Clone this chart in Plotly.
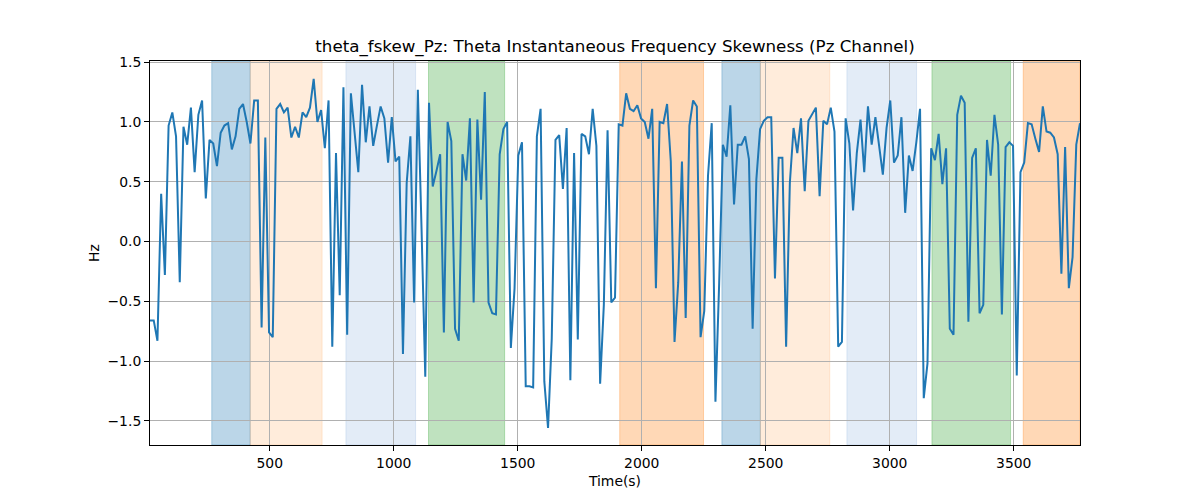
import plotly.graph_objects as go

# sampling of the time axis (s)
t_start = 17
t_step = 15

skew_values = [
    -0.66, -0.66, -0.83, 0.40, -0.28, 0.97, 1.08, 0.88, -0.34, 0.96, 0.81, 1.12, 0.58,
    1.06, 1.18, 0.36, 0.85, 0.82, 0.63, 0.91, 0.97, 0.99, 0.77, 0.88, 1.11, 1.15,
    1.00, 0.82, 1.18, 1.18, -0.72, 0.87, -0.76, -0.80, 1.11, 1.15, 1.08, 1.12, 0.87,
    0.96, 0.87, 1.08, 1.04, 1.12, 1.36, 1.00, 1.10, 0.78, 1.18, -0.88, 0.74, -0.45,
    1.29, -0.78, 1.24, 0.93, 0.58, 1.31, 0.83, 1.13, 0.80, 0.97, 1.13, 1.03, 0.66,
    1.04, 0.67, 0.71, -0.94, 0.49, 0.88, -0.51, 1.27, 0.10, -1.13, 1.16, 0.46,
    0.59, 0.73, -0.76, 1.00, 0.84, -0.73, -0.83, 0.73, 0.51, 1.03, -0.51, 1.02, 0.35,
    1.25, -0.51, -0.60, -0.61, 0.73, 0.94, 1.00, -0.89, -0.39, 0.72, 0.83, -1.21, -1.21,
    -1.22, 0.88, 1.11, -1.17, -1.56, -0.81, 0.85, 0.89, 0.44, 0.95, -1.16, 0.74, -0.82,
    0.90, 0.88, 0.73, 1.11, 0.80, -1.19, -0.53, 0.93, -0.51, -0.47, 0.98, 0.97,
    1.24, 1.11, 1.09, 1.14, 1.03, 1.00, 0.86, 1.11, -0.39, 1.00, 0.99, 1.15, 0.67,
    -0.84, -0.34, 0.67, -0.64, 0.97, 1.18, 1.13, -0.80, -0.58, 0.55, 0.99, -1.34,
    -0.35, 0.81, 0.71, 1.14, 0.31, 0.81, 0.81, 0.88, 0.69, -0.73, 0.52, 0.94, 1.01,
    1.04, 1.04, -0.31, 0.70, 0.70, -0.88, 0.49, 0.95, 0.74, 1.03, 0.42, 1.01, 1.06,
    1.12, 0.38, 1.01, 0.98, 1.12, 0.92, -0.88, -0.84, 1.03, 0.82, 0.26, 0.74, 1.02,
    0.58, 1.13, 0.81, 1.04, 0.80, 0.56, 0.95, 1.18, 0.66, 0.72, 1.04, 0.24, 0.72,
    0.59, 0.83, 1.11, -1.31, -1.02, 0.78, 0.68, 0.90, 0.48, 0.78, -0.73, -0.78, 1.06,
    1.22, 1.16, -0.67, 0.70, 0.78, -0.60, -0.53, 0.85, 0.55, 1.06, 0.81, -0.61,
    0.79, 0.83, 0.80, -1.12, 0.58, 0.66, 0.99, 0.98, 0.86, 0.75, 1.13, 0.92, 0.91,
    0.87, 0.73, -0.27, 0.79, -0.39, -0.13, 0.81, 0.99,
]
times = [t_start + t_step * i for i in range(len(skew_values))]

# shaded segments
band_start = [266, 421, 807, 1140, 1911, 2323, 2478, 2827, 3170, 3538]
band_end = [421, 711, 1088, 1447, 2249, 2478, 2758, 3108, 3487, 3767]
band_kind = ["blue", "orange_light", "blue_light", "green", "orange",
             "blue", "orange_light", "blue_light", "green", "orange"]

band_colors = {
    "blue": "rgba(31,119,180,0.3)",
    "orange_light": "rgba(255,127,14,0.15)",
    "blue_light": "rgba(70,130,200,0.15)",
    "green": "rgba(44,160,44,0.3)",
    "orange": "rgba(255,127,14,0.3)",
}

fig = go.Figure()

fig.add_trace(go.Scatter(
    x=times,
    y=skew_values,
    mode="lines",
    line=dict(color="#1f77b4", width=2),
    showlegend=False,
))

for x0, x1, kind in zip(band_start, band_end, band_kind):
    fig.add_shape(
        type="rect", xref="x", yref="paper",
        x0=x0, x1=x1, y0=0, y1=1,
        fillcolor=band_colors[kind],
        line=dict(color=band_colors[kind], width=1),
        layer="below",
    )

axis_common = dict(
    showline=True, linecolor="black", linewidth=1, mirror=True,
    ticks="outside", ticklen=5, tickcolor="black",
    showgrid=True, gridcolor="#b0b0b0", gridwidth=1,
    zeroline=False,
    tickfont=dict(family="DejaVu Sans", size=13.9, color="black"),
)

# the page adds an 8px body margin, so the margins are offset by it
fig.update_layout(
    width=1200, height=500,
    margin=dict(l=142, r=128, t=53, b=63),
    paper_bgcolor="white", plot_bgcolor="white",
    font=dict(family="DejaVu Sans", color="black"),
    title=dict(
        text="theta_fskew_Pz: Theta Instantaneous Frequency Skewness (Pz Channel)",
        x=0.5, xanchor="center", xref="paper",
        y=1 - 38 / 500, yanchor="middle", yref="container",
        font=dict(family="DejaVu Sans", size=16.7, color="black"),
    ),
    xaxis=dict(
        range=[t_start, times[-1]],
        tickvals=[500, 1000, 1500, 2000, 2500, 3000, 3500],
        title=dict(text="Time(s)", standoff=6,
                   font=dict(family="DejaVu Sans", size=13.9)),
        **axis_common,
    ),
    yaxis=dict(
        range=[-1.702, 1.51],
        tickvals=[-1.5, -1.0, -0.5, 0.0, 0.5, 1.0, 1.5],
        tickformat=".1f",
        title=dict(text="Hz", standoff=4,
                   font=dict(family="DejaVu Sans", size=13.9)),
        **axis_common,
    ),
)

fig.write_html("out.html")
